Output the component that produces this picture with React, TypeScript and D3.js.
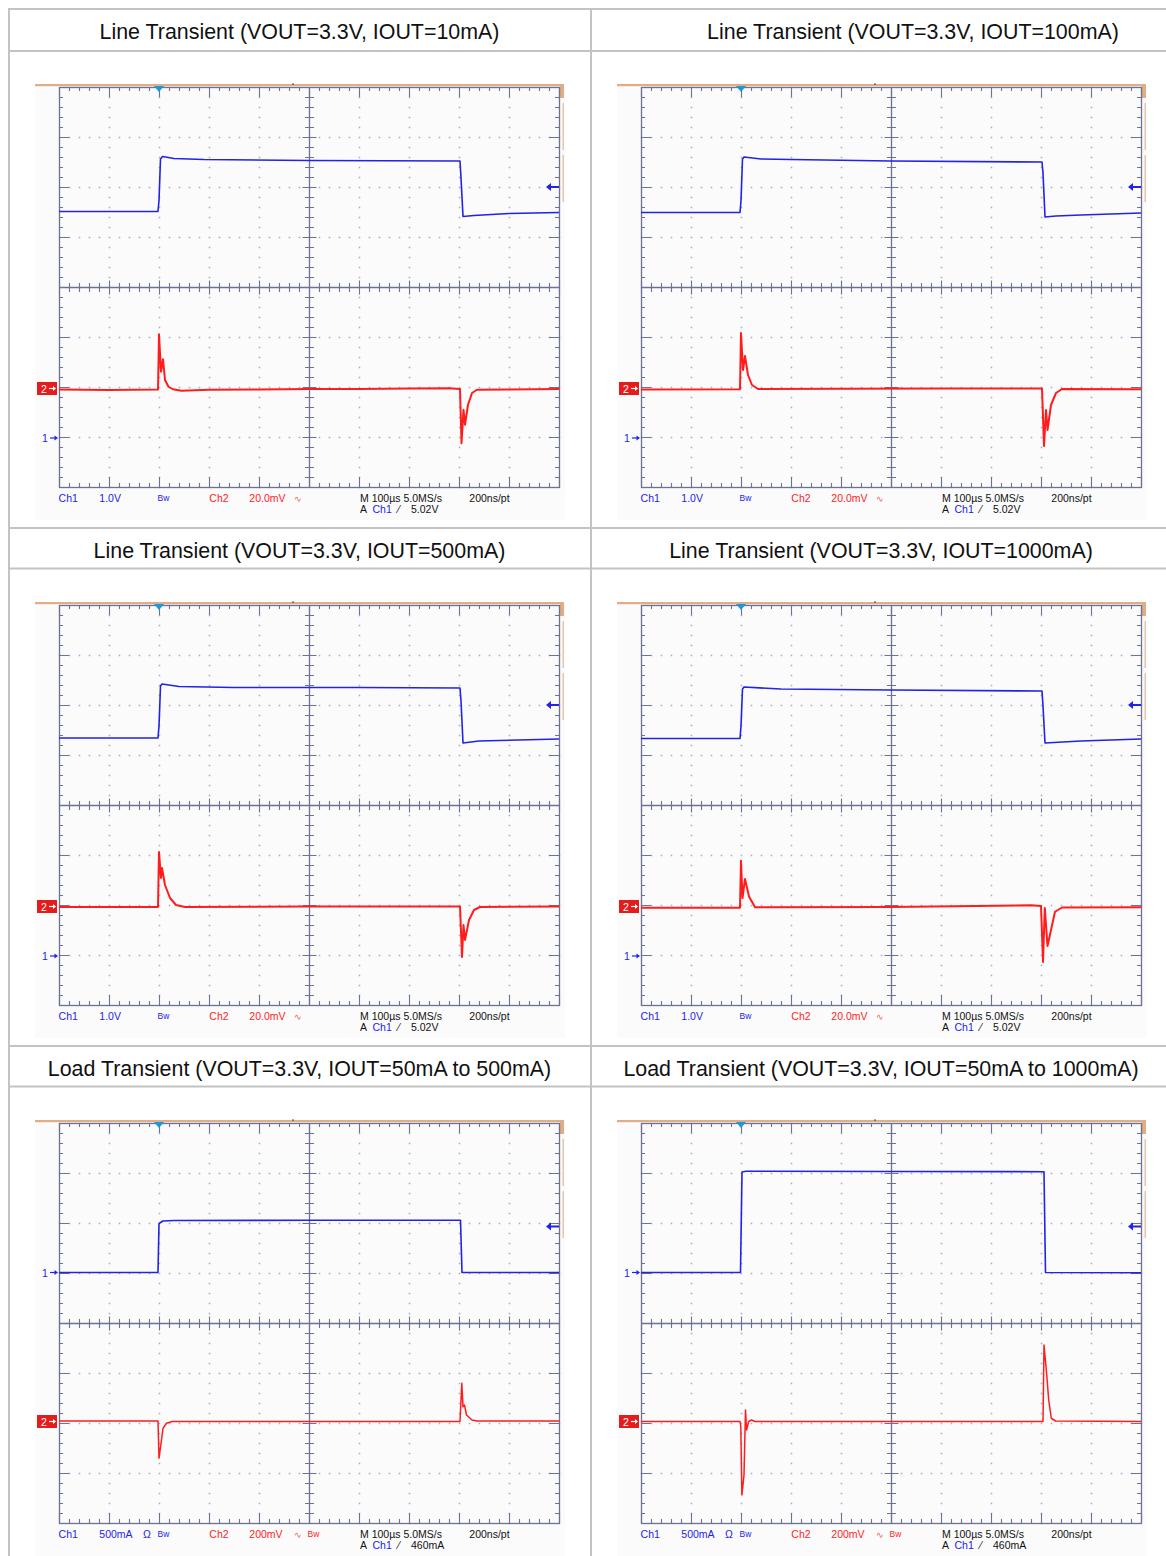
import React from "react";
import * as d3 from "d3";

type Pt = [number, number];

// ---- panel titles (table header cells) ----
const titles = [
  "Line Transient (VOUT=3.3V, IOUT=10mA)",
  "Line Transient (VOUT=3.3V, IOUT=100mA)",
  "Line Transient (VOUT=3.3V, IOUT=500mA)",
  "Line Transient (VOUT=3.3V, IOUT=1000mA)",
  "Load Transient (VOUT=3.3V, IOUT=50mA to 500mA)",
  "Load Transient (VOUT=3.3V, IOUT=50mA to 1000mA)",
];

// ---- scope settings per panel ----
const ch1Labels = ["1.0V", "1.0V", "1.0V", "1.0V", "500mA", "500mA"];
const ch1PerDiv = [1, 1, 1, 1, 500, 500];
const ch1Pos = [-3.02, -3.02, -3.02, -3.02, 1.01, 1.01];
const ch2Labels = ["20.0mV", "20.0mV", "20.0mV", "20.0mV", "200mV", "200mV"];
const ch2PerDiv = [20, 20, 20, 20, 200, 200];
const ch2Pos = [-2.03, -2.03, -2.03, -2.03, -1.97, -1.97];
const trigLevel = [5.02, 5.02, 5.02, 5.02, 460, 460];
const trigLabels = ["5.02V", "5.02V", "5.02V", "5.02V", "460mA", "460mA"];
const isLoad = [false, false, false, false, true, true];
const timebase = "M 100µs 5.0MS/s";
const recordRate = "200ns/pt";
const trigTime = 200; // µs from left edge of screen
const screenTime = [0, 1000]; // 10 div x 100 µs

// ---- Ch1 traces: [time µs, value (V or mA)] ----
const ch1Line10: Pt[] = [
  [0, 4.53], [198, 4.53], [200, 4.75], [203, 5.58], [207, 5.63], [230, 5.59],
  [290, 5.57], [500, 5.55], [802, 5.54], [804, 5.2], [808, 4.43], [830, 4.45],
  [900, 4.49], [1000, 4.51],
];
const ch1Line100: Pt[] = [
  [0, 4.51], [198, 4.51], [200, 4.75], [203, 5.58], [206, 5.62], [240, 5.58],
  [300, 5.57], [500, 5.54], [802, 5.52], [804, 5.3], [808, 4.42], [830, 4.44],
  [880, 4.46], [1000, 4.5],
];
const ch1Line500: Pt[] = [
  [0, 4.36], [198, 4.36], [200, 4.6], [203, 5.4], [206, 5.44], [240, 5.39],
  [350, 5.37], [600, 5.37], [802, 5.36], [804, 5.1], [808, 4.26], [840, 4.3],
  [1000, 4.34],
];
const ch1Line1000: Pt[] = [
  [0, 4.35], [198, 4.35], [200, 4.6], [203, 5.34], [206, 5.38], [280, 5.34],
  [500, 5.32], [802, 5.3], [804, 5.0], [808, 4.26], [880, 4.3], [1000, 4.34],
];
const ch1Load500: Pt[] = [
  [0, 0], [198, 0], [200, 490], [208, 515], [230, 520], [500, 522], [803, 522],
  [806, 0], [1000, 0],
];
const ch1Load1000: Pt[] = [
  [0, 0], [199, 0], [202, 1005], [210, 1013], [500, 1010], [806, 1008],
  [809, 0], [1000, -3],
];

// ---- Ch2 traces: [time µs, mV] ----
const ch2Line10: Pt[] = [
  [0, -0.4], [100, -0.6], [198, -0.4], [199, 10], [200, 21.7], [204, 6.7],
  [208, 11.7], [212, 3.4], [219, 0.7], [228, -0.3], [245, -0.9], [300, -0.5],
  [400, -0.4], [500, -0.2], [600, -0.2], [700, 0], [780, 0.1], [802, -0.2],
  [805, -21.9], [809, -8.5], [812, -14.5], [818, -6.5], [826, -1.8],
  [836, -0.5], [900, -0.4], [1000, -0.2],
];
const ch2Line100: Pt[] = [
  [0, -0.4], [198, -0.3], [200, 22.2], [204, 7.4], [208, 13], [214, 5.4],
  [222, 1.4], [234, -0.2], [400, -0.1], [600, 0], [802, 0], [806, -23],
  [810, -8.6], [813, -16.6], [820, -6.6], [830, -1.8], [842, -0.2],
  [1000, -0.3],
];
const ch2Line500: Pt[] = [
  [0, -0.2], [198, -0.2], [200, 21.8], [204, 11.4], [206, 15.4], [212, 8.6],
  [222, 3.4], [234, 0.6], [252, -0.2], [500, 0], [802, 0], [806, -20.2],
  [809, -7.4], [812, -13.4], [820, -5.4], [830, -1.4], [842, -0.2], [1000, 0],
];
const ch2Line1000: Pt[] = [
  [0, -0.5], [198, -0.5], [200, 18.3], [203, 3.4], [208, 11], [216, 4],
  [228, -0.3], [500, -0.2], [780, 0.5], [800, 0.2], [804, -22.2],
  [807.6, -0.6], [813, -15.8], [828, -2.1], [842, -0.4], [1000, -0.3],
];
const ch2Load500: Pt[] = [
  [0, 2], [198, 2], [200, -147], [205, -74], [208, -27], [215, -7], [226, 0],
  [500, 0], [802, 0], [805.6, 153], [808, 59], [811, 66], [815, 26],
  [826, 6], [836, 2], [1000, 2],
];
const ch2Load1000: Pt[] = [
  [0, 0], [198, 0], [199.6, -20], [201.8, -294], [206, -214], [209, 46],
  [211.2, -34], [215.4, 0], [221.2, 6], [228, 0], [500, 0], [804, 0],
  [806, 306], [811.2, 193], [815.4, 86], [820.6, 13], [829.2, 2], [1000, 0],
];

const ch1Traces = [ch1Line10, ch1Line100, ch1Line500, ch1Line1000, ch1Load500, ch1Load1000];
const ch2Traces = [ch2Line10, ch2Line100, ch2Line500, ch2Line1000, ch2Load500, ch2Load1000];

// ---- page layout ----
const colLeft = [59, 641];
const rowTop = [87, 605, 1123];
const headerTop = [9, 528, 1046];
const colCenter = [299.5, 881];
const titleNudge = [0, 32, 0, 0, 0, 0];

const BLUE = "#2222e8";
const RED = "#ff1c1c";
const GRID = "#6c7290";
const SCOPE_FONT = "'Liberation Sans', Arial, sans-serif";

const Scope = ({ i, left, top }: { i: number; left: number; top: number }) => {
  const x = d3.scaleLinear().domain(screenTime).range([left, left + 500]);
  const yd = d3.scaleLinear().domain([-4, 4]).range([top + 400, top]);
  const y1 = (v: number) => yd(ch1Pos[i] + v / ch1PerDiv[i]);
  const y2 = (v: number) => yd(ch2Pos[i] + v / ch2PerDiv[i]);
  const line1 = d3.line<Pt>().x((d) => x(d[0])).y((d) => y1(d[1]));
  const line2 = d3.line<Pt>().x((d) => x(d[0])).y((d) => y2(d[1]));

  const majT = d3.range(0, 1001, 100);
  const minT = d3.range(0, 1001, 20);
  const minV = d3.range(0, 41).map((k) => -4 + k * 0.2);
  const isMajV = (v: number) => Math.abs(v - Math.round(v)) < 1e-6;
  const p = (v: number) => Math.round(v) + 0.5;

  // dotted graticule
  let dots = "";
  majT.filter((t) => t > 0 && t < 1000 && t !== 500).forEach((t) =>
    minV.forEach((v) => {
      dots += `M${p(x(t)) - 0.75},${p(yd(v)) - 0.75}h1.5v1.5h-1.5z`;
    })
  );
  [-3, -2, -1, 1, 2, 3].forEach((v) =>
    minT.forEach((t) => {
      dots += `M${p(x(t)) - 0.75},${p(yd(v)) - 0.75}h1.5v1.5h-1.5z`;
    })
  );

  // border + centre ticks
  let ticks = "";
  const cx = p(x(500));
  const cy = p(yd(0));
  minT.forEach((t) => {
    const maj = t % 100 === 0;
    const L = maj ? 10 : 4;
    const c = maj ? 7 : 4.5;
    const xx = p(x(t));
    ticks += `M${xx},${top}v${L}M${xx},${top + 400}v${-L}`;
    if (t !== 500) ticks += `M${xx},${cy - c}v${2 * c}`;
  });
  minV.forEach((v) => {
    const maj = isMajV(v);
    const L = maj ? 10 : 4;
    const c = maj ? 7 : 4.5;
    const yy = p(yd(v));
    ticks += `M${left},${yy}h${L}M${left + 500},${yy}h${-L}`;
    if (Math.abs(v) > 1e-6) ticks += `M${cx - c},${yy}h${2 * c}`;
  });

  const g0 = y2(0);
  const g1 = y1(0);
  const tl = y1(trigLevel[i]);
  const tx = x(trigTime);
  const b1 = top + 414.7;
  const b2 = top + 426.3;

  return (
    <g>
      <rect x={left - 24} y={top - 2} width={530} height={435} fill="#fbfbfc" />
      <rect x={left - 24} y={top - 3} width={529} height={2.2} fill="#dfae86" />
      <rect x={left + 501} y={top - 3} width={4} height={14} fill="#dfae86" />
      <rect x={left + 503.5} y={top + 16} width={1.5} height={47} fill="#e8c6a6" />
      <rect x={left + 503.5} y={top + 68} width={1.5} height={47} fill="#e8c6a6" />
      <rect x={left + 233} y={top - 3.5} width={2} height={1.2} fill="#555" />

      <path d={dots} fill="#a6aabd" />
      <rect x={left + 0.5} y={top + 0.5} width={500} height={400} fill="none" stroke={GRID} strokeWidth={1.3} />
      <line x1={left} x2={left + 500} y1={cy} y2={cy} stroke={GRID} strokeWidth={1.3} />
      <line x1={cx} x2={cx} y1={top} y2={top + 400} stroke={GRID} strokeWidth={1.3} />
      <path d={ticks} stroke={GRID} strokeWidth={1.1} fill="none" />

      <path
        d={line2(ch2Traces[i]) || ""}
        fill="none"
        stroke={RED}
        strokeWidth={isLoad[i] ? 1.5 : 2}
        strokeLinejoin="round"
      />
      <path d={line1(ch1Traces[i]) || ""} fill="none" stroke={BLUE} strokeWidth={1.6} strokeLinejoin="round" />

      {/* trigger position */}
      <path d={`M${tx - 5},${top - 1}L${tx + 5},${top - 1}L${tx},${top + 5}Z`} fill="#1e98d8" />
      {/* trigger level */}
      <path d={`M${left + 491},${tl}h${9}`} stroke={BLUE} strokeWidth={2} />
      <path d={`M${left + 487},${tl}l5,-4v8z`} fill={BLUE} />

      {/* channel 2 ground marker */}
      <rect x={left - 22} y={g0 - 6.5} width={20} height={13} fill="#e51c1c" />
      <text x={left - 15} y={g0 + 4} fontSize={10.5} fill="#fff" fontFamily={SCOPE_FONT} textAnchor="middle">
        2
      </text>
      <path d={`M${left - 10},${g0}h5`} stroke="#fff" strokeWidth={1.2} />
      <path d={`M${left - 3},${g0}l-3,-2.5v5z`} fill="#fff" />

      {/* channel 1 ground marker */}
      <text x={left - 14} y={g1 + 4} fontSize={10.5} fill={BLUE} fontFamily={SCOPE_FONT} textAnchor="middle">
        1
      </text>
      <path d={`M${left - 9},${g1}h5`} stroke={BLUE} strokeWidth={1.2} />
      <path d={`M${left - 1},${g1}l-3.5,-2.5v5z`} fill={BLUE} />

      <g fontFamily={SCOPE_FONT} fontSize={10.5}>
        <text x={left - 0.4} y={b1} fill={BLUE}>Ch1</text>
        <text x={left + 40.3} y={b1} fill={BLUE}>{ch1Labels[i]}</text>
        {isLoad[i] && (
          <text x={left + 84} y={b1} fill={BLUE}>Ω</text>
        )}
        <text x={left + 98.5} y={b1 - 1} fill={BLUE} fontSize={8.5}>Bw</text>
        <text x={left + 150.3} y={b1} fill={RED}>Ch2</text>
        <text x={left + 190.3} y={b1} fill={RED}>{ch2Labels[i]}</text>
        <text x={left + 235.3} y={b1} fill="#f06060" fontSize={9}>∿</text>
        {isLoad[i] && (
          <text x={left + 248.5} y={b1 - 1} fill={RED} fontSize={8.5}>Bw</text>
        )}
        <text x={left + 301} y={b1} fill="#111">{timebase}</text>
        <text x={left + 410.3} y={b1} fill="#111">{recordRate}</text>
        <text x={left + 301} y={b2} fill="#111">A</text>
        <text x={left + 313.5} y={b2} fill={BLUE}>Ch1</text>
        <text x={left + 339} y={b2} fill="#111">⁄</text>
        <text x={left + 352} y={b2} fill="#111">{trigLabels[i]}</text>
      </g>
    </g>
  );
};

export default function App() {
  const border = "#c3c3c3";
  return (
    <svg
      width={1166}
      height={1556}
      style={{ position: "absolute", left: 0, top: 0, background: "#fff" }}
    >
      {titles.map((t, i) => {
        const col = i % 2;
        const row = Math.floor(i / 2);
        return (
          <Scope key={"s" + i} i={i} left={colLeft[col]} top={rowTop[row]} />
        );
      })}

      {/* table grid */}
      {headerTop.map((h, r) => (
        <g key={"h" + r}>
          <line x1={8} x2={1166} y1={h} y2={h} stroke={border} strokeWidth={2} />
          <line x1={8} x2={1166} y1={h + (r === 0 ? 42 : 40.5)} y2={h + (r === 0 ? 42 : 40.5)} stroke={border} strokeWidth={2} />
        </g>
      ))}
      <line x1={9} x2={9} y1={8} y2={1556} stroke={border} strokeWidth={2} />
      <line x1={591} x2={591} y1={8} y2={1556} stroke={border} strokeWidth={2} />

      {titles.map((t, i) => {
        const col = i % 2;
        const row = Math.floor(i / 2);
        return (
          <text
            key={"t" + i}
            x={colCenter[col] + titleNudge[i]}
            y={headerTop[row] + 29.5}
            textAnchor="middle"
            fontFamily="'Liberation Sans', Arial, sans-serif"
            fontSize={21.4}
            fill="#111"
          >
            {t}
          </text>
        );
      })}
    </svg>
  );
}
